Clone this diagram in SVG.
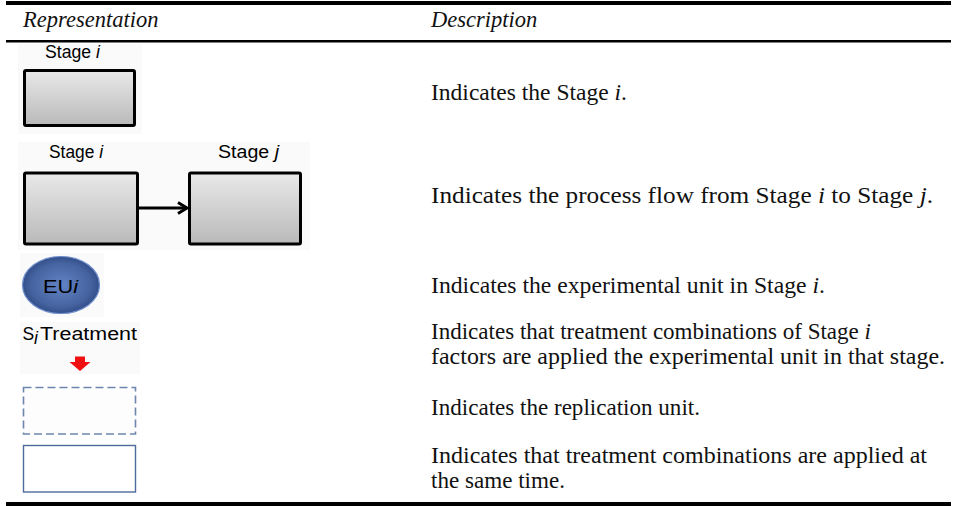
<svg xmlns="http://www.w3.org/2000/svg" width="957" height="506" viewBox="0 0 957 506">
<style>
.hd{font-family:"Liberation Serif","Times New Roman",serif;font-style:italic;font-size:22.5px;fill:#111}
.tx{font-family:"Liberation Serif","Times New Roman",serif;font-size:22.5px;fill:#111}
.lb{font-family:"Liberation Sans",Arial,sans-serif;font-size:17.5px;fill:#000}
.stage{fill:url(#gray);stroke:#000;stroke-width:3}
.bg{fill:#fafafa}
</style>
<defs>
<linearGradient id="gray" x1="0" y1="0" x2="0" y2="1">
<stop offset="0" stop-color="#e9e9e9"/>
<stop offset="1" stop-color="#b9b9b9"/>
</linearGradient>
<radialGradient id="blue" cx="0.5" cy="0.5" r="0.55">
<stop offset="0" stop-color="#6383c5"/>
<stop offset="0.7" stop-color="#45639f"/>
<stop offset="1" stop-color="#2c4782"/>
</radialGradient>
<marker id="arr" viewBox="0 0 14 14" refX="12" refY="7" markerWidth="14" markerHeight="14" markerUnits="userSpaceOnUse" orient="auto">
<path d="M3,1.5 L12,7 L3,12.5" fill="none" stroke="#000" stroke-width="3"/>
</marker>
</defs>
<rect x="0" y="0" width="957" height="506" fill="#fff"/>
<g id="rules">
<rect x="6" y="1" width="945" height="4" fill="#000"/>
<rect x="6" y="40" width="945" height="2.5" fill="#000"/>
<rect x="6" y="502" width="945" height="4" fill="#000"/>
</g>
<g id="header">
<text class="hd" x="23" y="27">Representation</text>
<text class="hd" x="431" y="27">Description</text>
</g>
<g id="stage-i">
<rect class="bg" x="18" y="44" width="124" height="90"/>
<text class="lb" x="45" y="58" textLength="55" lengthAdjust="spacingAndGlyphs">Stage <tspan font-style="italic">i</tspan></text>
<rect class="stage" x="24.5" y="70.5" width="110" height="55" rx="1.5"/>
</g>
<g id="stage-flow">
<rect class="bg" x="18" y="142" width="292" height="108"/>
<g id="flow-i">
<text class="lb" x="49" y="158" textLength="54" lengthAdjust="spacingAndGlyphs">Stage <tspan font-style="italic">i</tspan></text>
<rect class="stage" x="24.5" y="173" width="113" height="71" rx="1.5"/>
</g>
<g id="flow-j">
<text class="lb" x="218" y="158" textLength="61" lengthAdjust="spacingAndGlyphs">Stage <tspan font-style="italic">j</tspan></text>
<rect class="stage" x="189.5" y="173" width="111" height="71" rx="1.5"/>
</g>
</g>
<g id="connectors">
<line x1="138" y1="208" x2="187" y2="208" stroke="#000" stroke-width="3" marker-end="url(#arr)"/>
</g>
<g id="eu">
<rect class="bg" x="20" y="253" width="84" height="64"/>
<ellipse cx="61" cy="285" rx="38.5" ry="28.5" fill="url(#blue)" stroke="#6e8ecb" stroke-width="1.2"/>
<text class="lb" x="43" y="293" font-size="19" textLength="35" lengthAdjust="spacingAndGlyphs" fill="#0a0a1a">EU<tspan font-style="italic">i</tspan></text>
</g>
<g id="treatment">
<rect class="bg" x="20" y="322" width="120" height="52"/>
<text class="lb" x="22.5" y="339.5" font-size="19">S</text>
<text class="lb" x="34" y="343.5" font-size="12.5" font-style="italic">i</text>
<text class="lb" x="40" y="339.5" font-size="19" textLength="97" lengthAdjust="spacingAndGlyphs">Treatment</text>
<path d="M75,356.5 H85 V362 H90.5 L80,371 L69.5,362 H75 Z" fill="#f01010"/>
</g>
<g id="replication">
<rect x="23.5" y="387.5" width="112" height="46.5" fill="#fdfdfd" stroke="#6d86ad" stroke-width="1.6" stroke-dasharray="8,4"/>
</g>
<g id="simultaneous">
<rect x="23.5" y="445.5" width="112" height="46.5" fill="#fff" stroke="#4d6b9c" stroke-width="1.4"/>
</g>
<g id="descriptions">
<text class="tx" x="431" y="100" textLength="196" lengthAdjust="spacingAndGlyphs">Indicates the Stage <tspan font-style="italic">i</tspan>.</text>
<text class="tx" x="431" y="203" textLength="502" lengthAdjust="spacingAndGlyphs">Indicates the process flow from Stage <tspan font-style="italic">i</tspan> to Stage <tspan font-style="italic">j</tspan>.</text>
<text class="tx" x="431" y="293" textLength="394" lengthAdjust="spacingAndGlyphs">Indicates the experimental unit in Stage <tspan font-style="italic">i</tspan>.</text>
<text class="tx" x="431" y="339" textLength="440" lengthAdjust="spacingAndGlyphs">Indicates that treatment combinations of Stage <tspan font-style="italic">i</tspan></text>
<text class="tx" x="431" y="364" textLength="514" lengthAdjust="spacingAndGlyphs">factors are applied the experimental unit in that stage.</text>
<text class="tx" x="431" y="415" textLength="269" lengthAdjust="spacingAndGlyphs">Indicates the replication unit.</text>
<text class="tx" x="431" y="463" textLength="496" lengthAdjust="spacingAndGlyphs">Indicates that treatment combinations are applied at</text>
<text class="tx" x="431" y="488" textLength="134" lengthAdjust="spacingAndGlyphs">the same time.</text>
</g>
</svg>
